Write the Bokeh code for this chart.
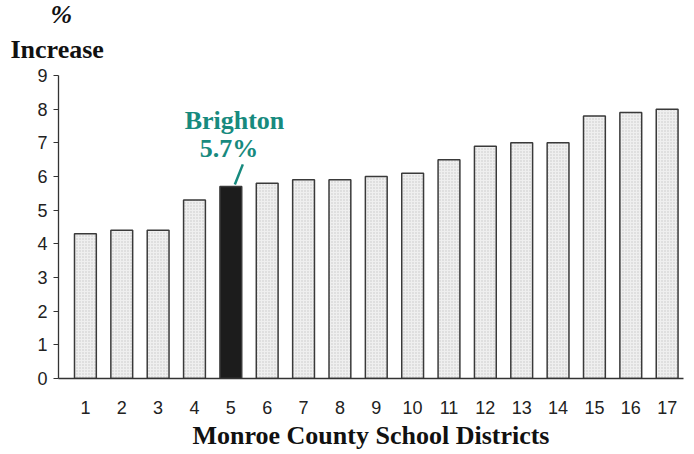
from bokeh.plotting import figure
from bokeh.models import ColumnDataSource, Label, FixedTicker, Range1d, Title
from bokeh.embed import file_html
from bokeh.resources import INLINE

districts = list(range(1, 18))
increase = [4.3, 4.4, 4.4, 5.3, 5.7, 5.8, 5.9, 5.9, 6.0, 6.1, 6.5, 6.9, 7.0, 7.0, 7.8, 7.9, 8.0]
highlight_district = 5
highlight_name = "Brighton"

colors = ["#1c1c1c" if d == highlight_district else "#efefef" for d in districts]
hatches = ["blank" if d == highlight_district else "dot" for d in districts]
src = ColumnDataSource(dict(x=districts, top=increase, color=colors, hatch=hatches))

TEAL = "#178a7e"
SERIF = "Liberation Serif"
SANS = "Liberation Sans"

p = figure(frame_width=625, frame_height=303, output_backend="svg", toolbar_location=None,
           x_range=Range1d(0.26, 17.45), y_range=Range1d(0, 9),
           min_border_left=58, min_border_right=3, min_border_top=75, min_border_bottom=70)
p.outline_line_color = None
p.grid.visible = False
p.background_fill_color = "white"

p.vbar(x="x", top="top", width=0.6, source=src, fill_color="color",
       hatch_pattern="hatch", hatch_color="#c8c8c8", hatch_scale=3, hatch_weight=1,
       line_color="#3a3a3a", line_width=1.5)

# axes
p.yaxis.ticker = FixedTicker(ticks=list(range(0, 10)))
p.yaxis.major_tick_in = 0
p.yaxis.major_tick_out = 5
p.yaxis.minor_tick_line_color = None
p.yaxis.major_label_text_font = SANS
p.yaxis.major_label_text_font_size = "18px"
p.yaxis.major_label_text_color = "#222222"
p.yaxis.major_label_standoff = 6
p.yaxis.axis_line_color = "#333333"
p.yaxis.major_tick_line_color = "#333333"
p.yaxis.axis_line_width = 1.3

p.xaxis.ticker = FixedTicker(ticks=districts)
p.xaxis.major_tick_in = 0
p.xaxis.major_tick_out = 0
p.xaxis.minor_tick_line_color = None
p.xaxis.major_label_text_font = SANS
p.xaxis.major_label_text_font_size = "18px"
p.xaxis.major_label_text_color = "#222222"
p.xaxis.major_label_standoff = 22
p.xaxis.axis_line_color = "#333333"
p.xaxis.axis_line_width = 1.3
p.xaxis.axis_label = "Monroe County School Districts"
p.xaxis.axis_label_text_font = SERIF
p.xaxis.axis_label_text_font_style = "bold"
p.xaxis.axis_label_text_font_size = "26px"
p.xaxis.axis_label_text_color = "#111111"
p.xaxis.axis_label_standoff = 4

# y-axis title (above the axis), stacked: first added is nearest the frame
p.add_layout(Title(text="Increase", align="left", offset=-48, standoff=24,
                   text_font=SERIF, text_font_style="bold", text_font_size="26px",
                   text_color="#111111"), "above")
p.add_layout(Title(text="%", align="left", offset=-8, standoff=-16,
                   text_font=SERIF, text_font_style="bold italic", text_font_size="26px",
                   text_color="#111111"), "above")

# annotation
hv = increase[districts.index(highlight_district)]
p.add_layout(Label(x=highlight_district + 0.1, y=hv + 1.95, text=highlight_name,
                   text_font=SERIF, text_font_style="bold", text_font_size="26px",
                   text_align="center", text_baseline="middle", text_color=TEAL))
p.add_layout(Label(x=highlight_district - 0.05, y=hv + 1.13, text=f"{hv}%",
                   text_font=SERIF, text_font_style="bold", text_font_size="26px",
                   text_align="center", text_baseline="middle", text_color=TEAL))
p.segment(x0=[highlight_district + 0.33], y0=[hv + 0.66], x1=[highlight_district + 0.11], y1=[hv + 0.06],
          line_color=TEAL, line_width=2.5)

open("out.html", "w").write(file_html(p, INLINE))
